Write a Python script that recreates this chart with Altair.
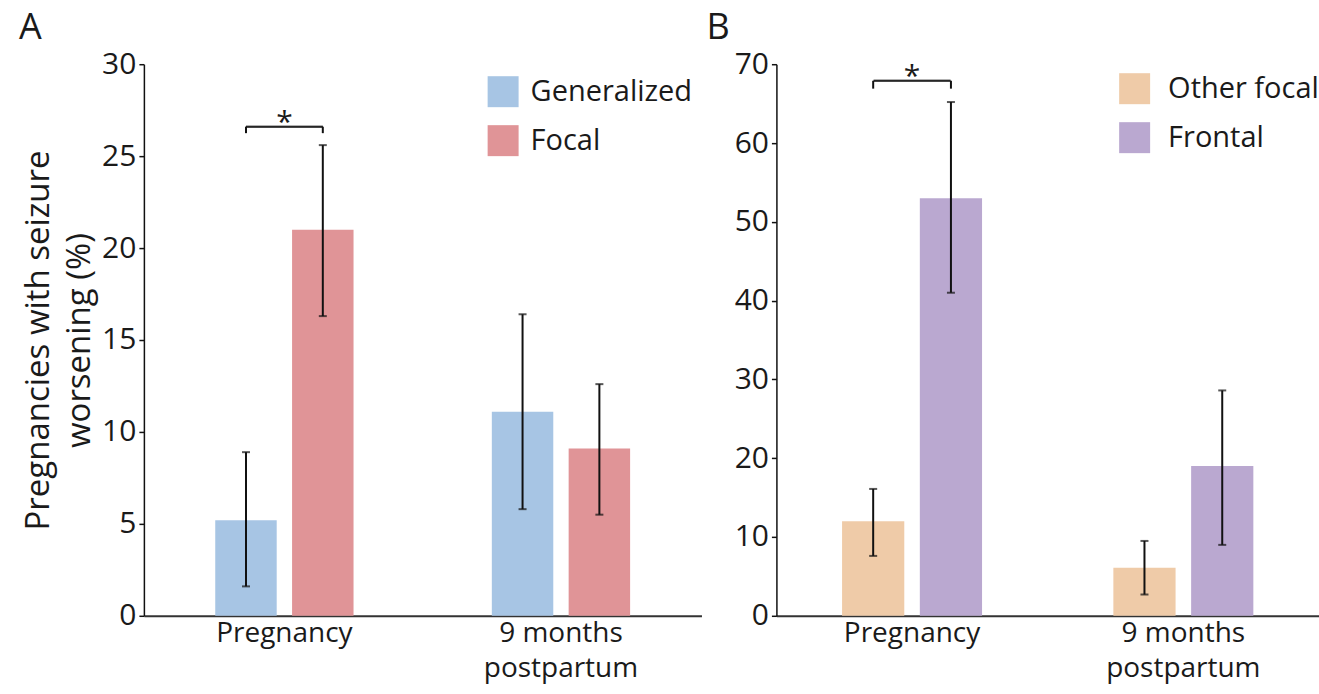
import altair as alt
import pandas as pd

# ---------------- data ----------------
periods = ["Pregnancy", "9 months postpartum"]

groups_a = ["Generalized", "Focal"]
colors_a = ["#a7c5e4", "#e09497"]
gen_val = [5.2, 11.1]
gen_lo = [1.6, 5.8]
gen_hi = [8.9, 16.4]
foc_val = [21.0, 9.1]
foc_lo = [16.3, 5.5]
foc_hi = [25.6, 12.6]
sig_a = [26.6, 26.25]          # bracket level, bracket leg end

groups_b = ["Other focal", "Frontal"]
colors_b = ["#efcba8", "#baa8d0"]
oth_val = [12.0, 6.1]
oth_lo = [7.6, 2.7]
oth_hi = [16.1, 9.5]
fro_val = [53.0, 19.0]
fro_lo = [41.0, 9.0]
fro_hi = [65.2, 28.6]
sig_b = [67.9, 66.9]

yticks_a = [0, 5, 10, 15, 20, 25, 30]
yticks_b = [0, 10, 20, 30, 40, 50, 60, 70]

FONT = "Open Sans"
TXT = "#1a1a1a"


def make_df(groups, v1, l1, h1, v2, l2, h2):
    rows = []
    for i, p in enumerate(periods):
        rows.append({"period": p, "group": groups[0], "value": v1[i], "lo": l1[i], "hi": h1[i]})
        rows.append({"period": p, "group": groups[1], "value": v2[i], "lo": l2[i], "hi": h2[i]})
    return pd.DataFrame(rows)


def panel(df, groups, colors, ymax, yticks, width, height, po, pi, align,
          ytitle, letter, letter_dx, sig, leg_x, leg_y, leg_off):
    xsc = alt.Scale(domain=periods, paddingOuter=po, paddingInner=pi, align=align)
    xoff = alt.XOffset("group:N", sort=groups, scale=alt.Scale(domain=groups, paddingInner=0.2))
    x_axis = alt.Axis(title=None, ticks=False, labelAngle=0, labelFont=FONT, labelFontSize=28,
                      labelColor=TXT, domainColor="#333333", domainWidth=2, labelPadding=4,
                      labelLineHeight=35,
                      labelExpr="datum.value == '9 months postpartum' ? ['9 months', 'postpartum'] : datum.value")
    y_axis = alt.Axis(values=yticks, grid=False, tickSize=5, tickColor="#111111", tickWidth=1.5,
                      domainColor="#111111", domainWidth=1.5, labelFont=FONT, labelFontSize=30,
                      labelColor=TXT, labelPadding=3,
                      title=ytitle if ytitle else None, titleFont=FONT, titleFontSize=33,
                      titleFontWeight="normal", titleColor=TXT, titleLineHeight=41, titlePadding=5)
    x = alt.X("period:N", sort=periods, scale=xsc, axis=x_axis)
    yscale = alt.Scale(domain=[0, ymax], nice=False, zero=True)

    base = alt.Chart(df)
    bars = base.mark_bar().encode(
        x=x, xOffset=xoff,
        y=alt.Y("value:Q", scale=yscale, axis=y_axis),
        color=alt.Color("group:N", sort=groups, scale=alt.Scale(domain=groups, range=colors),
                        legend=alt.Legend(orient="none", legendX=leg_x, legendY=leg_y, title=None,
                                          symbolType="square", symbolSize=961, symbolStrokeWidth=0,
                                          symbolOpacity=1, labelFont=FONT, labelFontSize=29,
                                          labelColor=TXT, rowPadding=18, labelOffset=leg_off,
                                          labelLimit=400, padding=0)),
    )
    err = base.mark_rule(color="#111111", strokeWidth=2).encode(
        x=alt.X("period:N", sort=periods, scale=xsc), xOffset=xoff,
        y=alt.Y("lo:Q", scale=yscale), y2="hi:Q")
    cap_lo = base.mark_tick(color="#111111", size=8, thickness=2).encode(
        x=alt.X("period:N", sort=periods, scale=xsc), xOffset=xoff,
        y=alt.Y("lo:Q", scale=yscale))
    cap_hi = base.mark_tick(color="#111111", size=8, thickness=2).encode(
        x=alt.X("period:N", sort=periods, scale=xsc), xOffset=xoff,
        y=alt.Y("hi:Q", scale=yscale))

    sig_df = pd.DataFrame({"period": [periods[0], periods[0]], "group": groups,
                           "y": [sig[0], sig[0]], "y2": [sig[1], sig[1]], "t": ["*", "*"]})
    sbase = alt.Chart(sig_df)
    bracket = sbase.mark_tick(color="#111111", size=77, thickness=2).encode(
        x=alt.X("period:N", sort=periods, scale=xsc), y=alt.Y("y:Q", scale=yscale))
    legs = sbase.mark_rule(color="#111111", strokeWidth=2).encode(
        x=alt.X("period:N", sort=periods, scale=xsc), xOffset=xoff,
        y=alt.Y("y:Q", scale=yscale), y2="y2:Q")
    star = sbase.transform_filter(alt.datum.group == groups[0]).mark_text(
        font=FONT, fontSize=30, color=TXT, baseline="alphabetic", dy=5).encode(
        x=alt.X("period:N", sort=periods, scale=xsc), y=alt.Y("y:Q", scale=yscale), text="t:N")

    return alt.layer(bars, err, cap_lo, cap_hi, bracket, legs, star).properties(
        width=width, height=height,
        title=alt.TitleParams(text=letter, anchor="start", frame="group", dx=letter_dx,
                              font=FONT, fontSize=36, fontWeight="normal", color=TXT,
                              baseline="alphabetic", offset=-26),
    )


df_a = make_df(groups_a, gen_val, gen_lo, gen_hi, foc_val, foc_lo, foc_hi)
df_b = make_df(groups_b, oth_val, oth_lo, oth_hi, fro_val, fro_lo, fro_hi)

chart_a = panel(df_a, groups_a, colors_a, 30, yticks_a, 558, 552, 0.258, 0.5, 0.5,
                ["Pregnancies with seizure", "worsening (%)"], "A", -125, sig_a, 344, 12, 12)
chart_b = panel(df_b, groups_b, colors_b, 70, yticks_b, 543, 552, 0.242, 0.484, 0.5,
                None, "B", -70, sig_b, 343, 9, 18)

chart = alt.hconcat(chart_a, chart_b, spacing=5).resolve_scale(
    color="independent", x="independent", y="independent", xOffset="independent"
).properties(
    padding={"left": 19, "top": 10, "right": 0, "bottom": 9},
    background="white",
).configure_view(stroke=None)

chart.save("out.html", embed_options={"renderer": "svg", "actions": False})
